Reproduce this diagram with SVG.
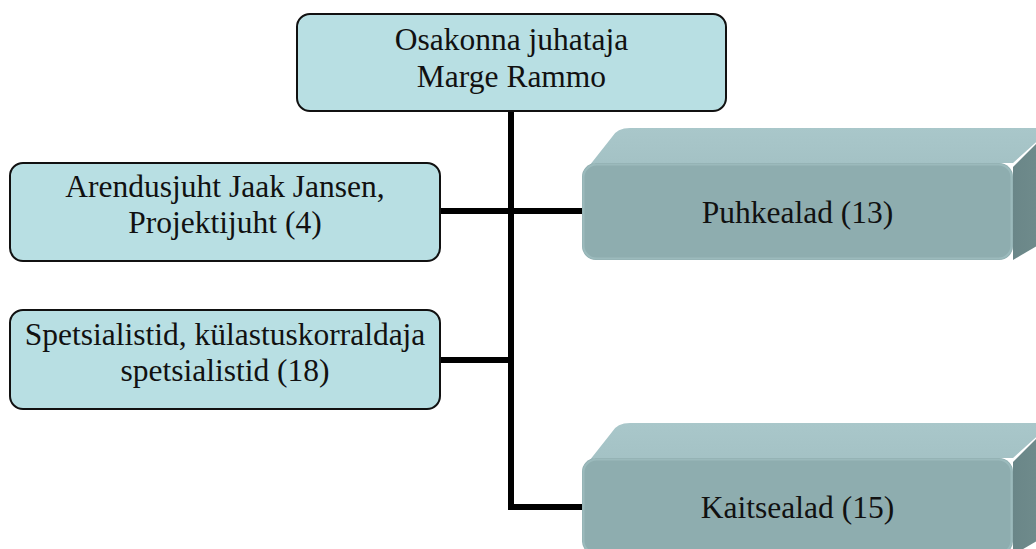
<svg xmlns="http://www.w3.org/2000/svg" width="1036" height="549" viewBox="0 0 1036 549">
  <defs>
    <linearGradient id="topFace" x1="0" y1="0" x2="0" y2="1">
      <stop offset="0" stop-color="#a9c7ca"/>
      <stop offset="1" stop-color="#a2c0c3"/>
    </linearGradient>
    <linearGradient id="sideFace" x1="0" y1="0" x2="1" y2="0">
      <stop offset="0" stop-color="#6a8688"/>
      <stop offset="1" stop-color="#74908f"/>
    </linearGradient>
    <!-- one 3D block, drawn at origin = front face top-left -->
    <g id="block">
      <path class="top" d="M 0 12 L 30 -26 Q 35 -35 48 -35 L 470 -35 L 431 0 L 12 0 Z"/>
      <path class="side" d="M 431 4 L 470 -35 L 480 -35 L 480 68 L 431 97 Z"/>
      <rect class="front" x="0" y="0" width="431" height="97" rx="14"/>
      <rect class="frontEdge" x="1.5" y="1.5" width="428" height="94" rx="13"/>
    </g>
  </defs>
  <style>
    .box { fill: #b8dfe3; stroke: #111; stroke-width: 2; }
    .label { font-size: 31.5px; fill: #111; text-anchor: middle; }
    .top { fill: url(#topFace); }
    .side { fill: url(#sideFace); }
    .front { fill: #8eadaf; }
    .frontEdge { fill: none; stroke: #9bbabc; stroke-width: 2; }
    .conn { fill: none; stroke: #000; stroke-width: 6; stroke-linejoin: miter; }
  </style>

  <rect width="1036" height="549" fill="#ffffff"/>

  <g id="connectors">
    <path class="conn" d="M 511 111 L 511 507 L 582 507"/>
    <path class="conn" d="M 440 211 L 582 211"/>
    <path class="conn" d="M 440 360 L 511 360"/>
  </g>

  <g font-family="'Liberation Serif', 'DejaVu Serif', serif">
    <g id="head">
      <rect class="box" x="297" y="14" width="429" height="97" rx="13"/>
      <text class="label" x="511.5" y="50">Osakonna juhataja</text>
      <text class="label" x="511.5" y="87">Marge Rammo</text>
    </g>

    <g id="arendusjuht">
      <rect class="box" x="10" y="163" width="430" height="98" rx="13"/>
      <text class="label" x="225" y="197">Arendusjuht Jaak Jansen,</text>
      <text class="label" x="225" y="233">Projektijuht (4)</text>
    </g>

    <g id="spetsialistid">
      <rect class="box" x="10" y="310" width="430" height="99" rx="13"/>
      <text class="label" x="225" y="345">Spetsialistid, külastuskorraldaja</text>
      <text class="label" x="225" y="381">spetsialistid (18)</text>
    </g>

    <g id="puhkealad">
      <use href="#block" x="582" y="163"/>
      <text class="label" x="797.5" y="223">Puhkealad (13)</text>
    </g>

    <g id="kaitsealad">
      <use href="#block" x="582" y="458"/>
      <text class="label" x="797.5" y="518">Kaitsealad (15)</text>
    </g>
  </g>
</svg>
